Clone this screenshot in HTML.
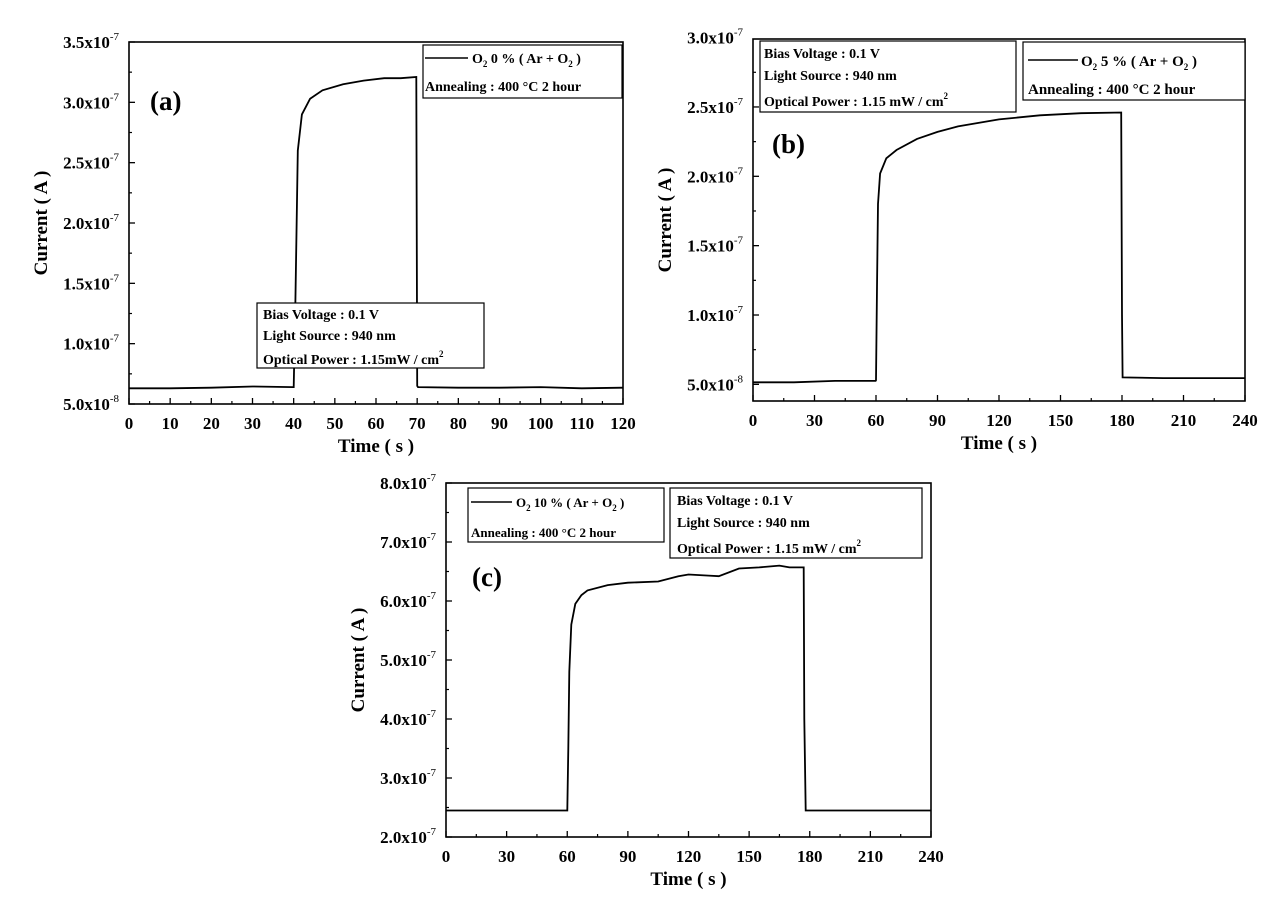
<!DOCTYPE html>
<html><head><meta charset="utf-8"><style>
html,body{margin:0;padding:0;background:#fff;}
svg{display:block;font-family:"Liberation Serif",serif;font-weight:bold;}
</style></head><body>
<svg id="fig" width="1286" height="915" viewBox="0 0 1286 915"></svg>
<script>
// Panel (a) data
const aX = [0,10,20,30,39.8,40,40.4,41,42,44,47,52,57,62,66,69.8,70,70.2,80,90,100,110,120];
const aY = [6.3e-8,6.3e-8,6.35e-8,6.45e-8,6.4e-8,6.4e-8,1.3e-7,2.6e-7,2.9e-7,3.03e-7,3.1e-7,3.15e-7,3.18e-7,3.2e-7,3.2e-7,3.21e-7,6.5e-8,6.4e-8,6.35e-8,6.35e-8,6.4e-8,6.3e-8,6.35e-8];
const aXTicks = [0,10,20,30,40,50,60,70,80,90,100,110,120];
const aYTicks = [5e-8,1e-7,1.5e-7,2e-7,2.5e-7,3e-7,3.5e-7];
const aYLabels = [["5.0","-8"],["1.0","-7"],["1.5","-7"],["2.0","-7"],["2.5","-7"],["3.0","-7"],["3.5","-7"]];
// Panel (b) data
const bX = [0,20,40,59.8,60,60.5,61,62,65,70,80,90,100,120,140,160,179.6,180,180.3,200,220,240];
const bY = [5.15e-8,5.15e-8,5.25e-8,5.25e-8,5.3e-8,1.2e-7,1.8e-7,2.02e-7,2.13e-7,2.19e-7,2.27e-7,2.32e-7,2.36e-7,2.41e-7,2.44e-7,2.455e-7,2.46e-7,1.0e-7,5.5e-8,5.45e-8,5.45e-8,5.45e-8];
const bXTicks = [0,30,60,90,120,150,180,210,240];
const bYTicks = [5e-8,1e-7,1.5e-7,2e-7,2.5e-7,3e-7];
const bYLabels = [["5.0","-8"],["1.0","-7"],["1.5","-7"],["2.0","-7"],["2.5","-7"],["3.0","-7"]];
// Panel (c) data
const cX = [0,30,59.8,60,60.5,61,62,64,67,70,80,90,105,115,120,130,135,145,155,165,170,177,177.3,178,200,240];
const cY = [2.45e-7,2.45e-7,2.45e-7,2.45e-7,3.5e-7,4.8e-7,5.6e-7,5.95e-7,6.1e-7,6.18e-7,6.27e-7,6.31e-7,6.33e-7,6.42e-7,6.45e-7,6.43e-7,6.42e-7,6.55e-7,6.57e-7,6.6e-7,6.57e-7,6.57e-7,4e-7,2.45e-7,2.45e-7,2.45e-7];
const cXTicks = [0,30,60,90,120,150,180,210,240];
const cYTicks = [2e-7,3e-7,4e-7,5e-7,6e-7,7e-7,8e-7];
const cYLabels = [["2.0","-7"],["3.0","-7"],["4.0","-7"],["5.0","-7"],["6.0","-7"],["7.0","-7"],["8.0","-7"]];

const NS="http://www.w3.org/2000/svg";
const svg=document.getElementById('fig');
function mk(tag,attrs,parent){const e=document.createElementNS(NS,tag);for(const k in attrs)e.setAttribute(k,attrs[k]);(parent||svg).appendChild(e);return e;}

function panel(id,box,xmin,xmax,ymin,ymax,xs,ys,xt,yt,yl){
  const g=mk('g',{});
  
  
  const sx=v=>box.l+(v-xmin)/(xmax-xmin)*(box.r-box.l);
  const sy=v=>box.b-(v-ymin)/(ymax-ymin)*(box.b-box.t);
  // ticks
  for(let i=0;i<xt.length;i++){
    const x=sx(xt[i]);
    const t=mk('line',{x1:x,x2:x,y1:box.b,y2:box.b-6,stroke:'#000','stroke-width':1.3},g);
    
    
    if(i<xt.length-1){const xm=sx((xt[i]+xt[i+1])/2);mk('line',{x1:xm,x2:xm,y1:box.b,y2:box.b-3,stroke:'#000','stroke-width':1.2},g);}
    const tx=mk('text',{x:x,y:box.b+25,'text-anchor':'middle','font-size':17},g);
    tx.textContent=xt[i];
    
    
  }
  for(let i=0;i<yt.length;i++){
    const y=sy(yt[i]);
    if(y>=box.t-1){
      const t=mk('line',{x1:box.l,x2:box.l+6,y1:y,y2:y,stroke:'#000','stroke-width':1.3},g);
      
      
    }
    if(i<yt.length-1){const ym=sy((yt[i]+yt[i+1])/2);mk('line',{x1:box.l,x2:box.l+3,y1:ym,y2:ym,stroke:'#000','stroke-width':1.2},g);}
    const tx=mk('text',{x:box.l-10,y:y+6,'text-anchor':'end','font-size':17},g);
    
    
    const s1=mk('tspan',{},tx);s1.textContent=yl[i][0]+'x10';
    const s2=mk('tspan',{dy:-8,'font-size':11,'font-weight':'normal'},tx);s2.textContent=yl[i][1];
  }
  // curve
  let d='';
  for(let i=0;i<xs.length;i++)d+=(i?'L':'M')+sx(xs[i]).toFixed(1)+' '+sy(ys[i]).toFixed(1);
  const p=mk('path',{d:d,fill:'none',stroke:'#000','stroke-width':1.8},g);
  
  
  // frame
  const f=mk('rect',{x:box.l,y:box.t,width:box.r-box.l,height:box.b-box.t,fill:'none',stroke:'#000','stroke-width':1.6},g);
  
  
  // axis titles
  const xtl=mk('text',{x:(box.l+box.r)/2,y:box.b+48,'text-anchor':'middle','font-size':19},g);
  xtl.textContent='Time ( s )';
  
  
  const cy=(box.t+box.b)/2, cx=box.l-82;
  const ytl=mk('text',{x:cx,y:cy,'text-anchor':'middle','font-size':19,transform:'rotate(-90 '+cx+' '+cy+')'},g);
  ytl.textContent='Current ( A )';
  
  
  return g;
}
function box(x,y,w,h,name){const r=mk('rect',{x:x,y:y,width:w,height:h,fill:'#fff',stroke:'#000','stroke-width':1.2});return r;}
function txt(x,y,s,size,name){const t=mk('text',{x:x,y:y,'font-size':size});t.innerHTML=s;return t;}

panel('a',{l:129,r:623,t:42,b:404},0,120,5e-8,3.5e-7,aX,aY,aXTicks,aYTicks,aYLabels);
panel('b',{l:753,r:1245,t:39,b:401},0,240,3.8e-8,2.99e-7,bX,bY,bXTicks,bYTicks,bYLabels);
panel('c',{l:446,r:931,t:483,b:837},0,240,2e-7,8e-7,cX,cY,cXTicks,cYTicks,cYLabels);

const sub='<tspan dy="4" font-size="9">2</tspan><tspan dy="-4"> </tspan>';
const sup='<tspan dy="-7" font-size="9">2</tspan>';
// (a) annotations
box(423,45,199,53,'legend-box-a');
mk('line',{x1:425,x2:468,y1:58,y2:58,stroke:'#000','stroke-width':1.5});
txt(472,63,'O'+sub+'0 % ( Ar + O'+sub+')',14,'legend-entry-a');
txt(425,91,'Annealing : 400 °C 2 hour',14,'annealing-label-a');
box(257,303,227,65,'info-box-a');
txt(263,319,'Bias Voltage : 0.1 V',14,'bias-label-a');
txt(263,340,'Light Source : 940 nm',14,'source-label-a');
txt(263,364,'Optical Power : 1.15mW / cm'+sup,14,'power-label-a');
txt(150,110,'(a)',27,'panel-label-a');
// (b)
box(760,41,256,71,'info-box-b');
txt(764,58,'Bias Voltage : 0.1 V',14,'bias-label-b');
txt(764,80,'Light Source : 940 nm',14,'source-label-b');
txt(764,106,'Optical Power : 1.15 mW / cm'+sup,14,'power-label-b');
box(1023,42,222,58,'legend-box-b');
mk('line',{x1:1028,x2:1078,y1:60,y2:60,stroke:'#000','stroke-width':1.5});
txt(1081,66,'O'+sub+'5 % ( Ar + O'+sub+')',15,'legend-entry-b');
txt(1028,94,'Annealing : 400 °C 2 hour',15,'annealing-label-b');
txt(772,153,'(b)',27,'panel-label-b');
// (c)
box(468,488,196,54,'legend-box-c');
mk('line',{x1:471,x2:512,y1:502,y2:502,stroke:'#000','stroke-width':1.5});
txt(516,507,'O'+sub+'10 % ( Ar + O'+sub+')',13,'legend-entry-c');
txt(471,537,'Annealing : 400 °C 2 hour',13,'annealing-label-c');
box(670,488,252,70,'info-box-c');
txt(677,505,'Bias Voltage : 0.1 V',14,'bias-label-c');
txt(677,527,'Light Source : 940 nm',14,'source-label-c');
txt(677,553,'Optical Power : 1.15 mW / cm'+sup,14,'power-label-c');
txt(472,586,'(c)',27,'panel-label-c');
</script>
</body></html>
